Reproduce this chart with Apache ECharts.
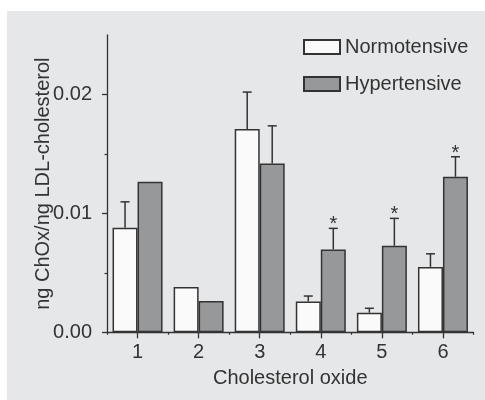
<!DOCTYPE html>
<html>
<head>
<meta charset="utf-8">
<script src="https://cdn.jsdelivr.net/npm/echarts@6/dist/echarts.min.js"></script>
<style>
  html, body { margin: 0; padding: 0; background: #ffffff; }
  #chart { width: 485px; height: 400px; }
</style>
</head>
<body>
<div id="chart"></div>
<script>
// ---- data ----
const categories = ['1', '2', '3', '4', '5', '6'];
const normotensive = [0.0088, 0.0038, 0.0171, 0.0026, 0.00165, 0.0055];
const hypertensive = [0.01266, 0.00263, 0.0142, 0.00697, 0.00728, 0.01308];
const normotensiveErr = [0.00217, 0, 0.0031, 0.00045, 0.00037, 0.0011];
const hypertensiveErr = [0, 0, 0.00316, 0.00177, 0.0023, 0.00168];
const significant = [false, false, false, true, true, true];
const yMajorTicks = [0, 0.01, 0.02];
const yMinorTicks = [0.005, 0.015];

// ---- style ----
const FONT = 'Liberation Sans, Arial, sans-serif';
const TXT = '#333333';
const LINE = '#333333';
const BAR_W = 25;

// error-bar items: [categoryIndex, value, top, side(0=N,1=H), star]
const errData = [];
categories.forEach((c, i) => {
  if (normotensiveErr[i] > 0) errData.push([i, normotensive[i], normotensive[i] + normotensiveErr[i], 0, 0]);
  if (hypertensiveErr[i] > 0) errData.push([i, hypertensive[i], hypertensive[i] + hypertensiveErr[i], 1, significant[i] ? 1 : 0]);
});

const chart = echarts.init(document.getElementById('chart'), null, { renderer: 'canvas' });
chart.setOption({
  backgroundColor: '#ffffff',
  animation: false,
  textStyle: { fontFamily: FONT },
  graphic: {
    elements: [{
      type: 'rect', z: -100, silent: true,
      shape: { x: 7, y: 11, width: 478, height: 389 },
      style: { fill: '#e6e7e8' }
    }]
  },
  grid: { left: 107, right: 11.5, top: 35, bottom: 67.7, containLabel: false },
  legend: {
    data: ['Normotensive', 'Hypertensive'],
    orient: 'vertical',
    left: 298, top: 32,
    itemWidth: 36, itemHeight: 14, itemGap: 17,
    icon: 'rect',
    textStyle: { fontSize: 20, color: TXT, fontFamily: FONT }
  },
  xAxis: [{
    type: 'category',
    data: categories,
    name: 'Cholesterol oxide',
    nameLocation: 'middle',
    nameGap: 36,
    nameMoveOverlap: false,
    nameTextStyle: { fontSize: 20, color: TXT, fontFamily: FONT },
    axisLine: { show: true, lineStyle: { color: LINE, width: 1.3 } },
    axisTick: { show: true, alignWithLabel: true, length: 6, lineStyle: { color: LINE, width: 1.3 } },
    axisLabel: { fontSize: 20, color: TXT, margin: 10, fontFamily: FONT },
    splitLine: { show: false }
  }, {
    type: 'category',
    data: categories,
    position: 'bottom',
    axisLine: { show: false },
    axisTick: { show: true, interval: 0, length: 2.5, lineStyle: { color: LINE, width: 1.2 } },
    axisLabel: { show: false },
    splitLine: { show: false }
  }],
  yAxis: [{
    type: 'value',
    min: 0, max: 0.025,
    name: 'ng ChOx/ng LDL-cholesterol',
    nameLocation: 'middle',
    nameGap: 54,
    nameMoveOverlap: false,
    nameTextStyle: { fontSize: 20, color: TXT, fontFamily: FONT },
    axisLine: { show: true, lineStyle: { color: LINE, width: 1.3 } },
    axisTick: { show: true, length: 5, customValues: yMajorTicks, lineStyle: { color: LINE, width: 1.3 } },
    axisLabel: { fontSize: 20, color: TXT, margin: 15, fontFamily: FONT, customValues: yMajorTicks,
      formatter: v => v.toFixed(2) },
    splitLine: { show: false }
  }, {
    type: 'value',
    min: 0, max: 0.025,
    position: 'left',
    axisLine: { show: false },
    axisTick: { show: true, length: 2.5, customValues: yMinorTicks, lineStyle: { color: LINE, width: 1.2 } },
    axisLabel: { show: false },
    splitLine: { show: false }
  }],
  series: [{
    name: 'Normotensive',
    type: 'bar',
    data: normotensive,
    barWidth: BAR_W,
    barGap: '0%',
    itemStyle: { color: '#fafafa', borderColor: LINE, borderWidth: 1.5 }
  }, {
    name: 'Hypertensive',
    type: 'bar',
    data: hypertensive,
    barWidth: BAR_W,
    barGap: '0%',
    itemStyle: { color: '#97989a', borderColor: LINE, borderWidth: 1.5 }
  }, {
    type: 'custom',
    clip: false,
    z: 5,
    data: errData,
    renderItem: function (params, api) {
      const idx = api.value(0);
      const v = api.value(1);
      const t = api.value(2);
      const side = api.value(3);
      const star = api.value(4);
      const p0 = api.coord([idx, v]);
      const p1 = api.coord([idx, t]);
      const cx = p0[0] + (side ? BAR_W / 2 : -BAR_W / 2);
      const style = { stroke: LINE, lineWidth: 1.5 };
      const children = [
        { type: 'line', shape: { x1: cx, y1: p0[1], x2: cx, y2: p1[1] }, style },
        { type: 'line', shape: { x1: cx - 4.5, y1: p1[1], x2: cx + 4.5, y2: p1[1] }, style }
      ];
      if (star) {
        children.push({
          type: 'text',
          style: { text: '*', x: cx, y: p1[1] - 3.5, fill: TXT, font: '20px ' + FONT,
            textAlign: 'center', textVerticalAlign: 'middle' }
        });
      }
      return { type: 'group', children };
    }
  }]
});
</script>
</body>
</html>
